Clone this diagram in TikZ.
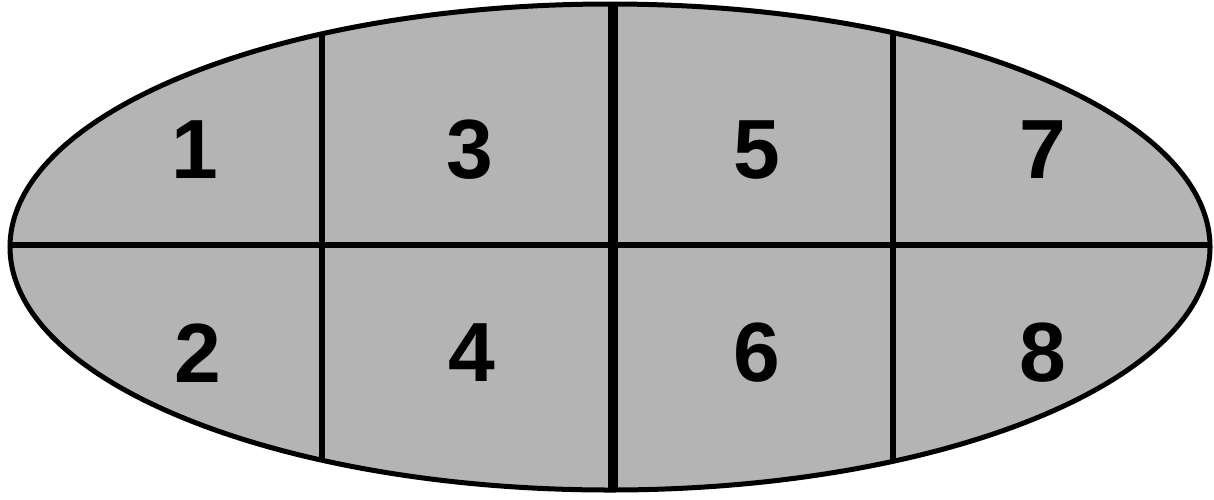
\documentclass[tikz,border=0pt]{standalone}
\usepackage{fontspec}
\setmainfont{Liberation Sans}
\begin{document}
\begin{tikzpicture}[x=1pt,y=-1pt,
  region/.style={font=\fontsize{84}{84}\selectfont\bfseries, inner sep=0pt},
  divider/.style={draw=black, line width=6pt},
  fillgray/.style={fill={rgb,255:red,180;green,180;blue,180}}]
\useasboundingbox (0,0) rectangle (1214,499);
\path[fillgray] (610,247) ellipse [x radius=600, y radius=243];
\begin{scope}
  \clip (610,247) ellipse [x radius=600, y radius=243];
  \draw[divider] (0,245) -- (1214,245);
  \draw[divider] (322,0) -- (322,499);
  \draw[divider] (893,0) -- (893,499);
  \draw[draw=black, line width=10pt] (613,0) -- (613,499);
\end{scope}
\draw[line width=5pt] (610,247) ellipse [x radius=600, y radius=243];
\node[region] (n1) at (195,150) {1};
\node[region] (n3) at (470,150) {3};
\node[region] (n5) at (757,150) {5};
\node[region] (n7) at (1043,150) {7};
\node[region] (n2) at (198,353) {2};
\node[region] (n4) at (472,353) {4};
\node[region] (n6) at (757,353) {6};
\node[region] (n8) at (1043,353) {8};
\end{tikzpicture}
\end{document}
